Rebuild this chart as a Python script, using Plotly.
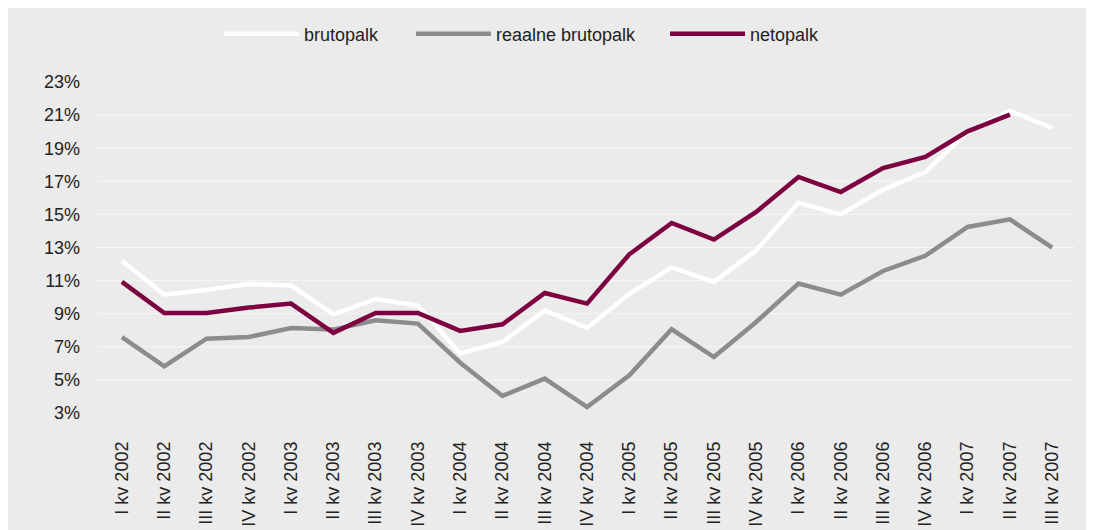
import plotly.graph_objects as go

categories = [
    "I kv 2002", "II kv 2002", "III kv 2002", "IV kv 2002",
    "I kv 2003", "II kv 2003", "III kv 2003", "IV kv 2003",
    "I kv 2004", "II kv 2004", "III kv 2004", "IV kv 2004",
    "I kv 2005", "II kv 2005", "III kv 2005", "IV kv 2005",
    "I kv 2006", "II kv 2006", "III kv 2006", "IV kv 2006",
    "I kv 2007", "II kv 2007", "III kv 2007",
]

brutopalk = [12.2, 10.15, 10.45, 10.8, 10.7, 8.96, 9.89, 9.49, 6.6, 7.3, 9.2, 8.14,
             10.2, 11.8, 10.92, 12.83, 15.7, 15.0, 16.5, 17.56, 19.98, 21.25, 20.22]
reaalne_brutopalk = [7.59, 5.82, 7.49, 7.59, 8.14, 8.04, 8.6, 8.4, 6.04, 4.03, 5.08, 3.36,
                     5.28, 8.06, 6.38, 8.5, 10.82, 10.15, 11.58, 12.5, 14.24, 14.7, 12.99]
netopalk = [10.92, 9.04, 9.04, 9.37, 9.61, 7.84, 9.04, 9.04, 7.96, 8.36, 10.25, 9.61,
            12.59, 14.48, 13.48, 15.15, 17.26, 16.35, 17.8, 18.47, 20.02, 21.03, None]

series_names = ["brutopalk", "reaalne brutopalk", "netopalk"]
series_values = [brutopalk, reaalne_brutopalk, netopalk]
series_colors = ["#ffffff", "#8c8c8c", "#7d0040"]

y_ticks = [3, 5, 7, 9, 11, 13, 15, 17, 19, 21, 23]
y_ticktext = [f"{v}%" for v in y_ticks]
grid_values = y_ticks[1:]

W, H = 1085, 522
L, R, T, B = 89, 18, 74, 117
plot_w = W - L - R
plot_h = H - T - B

legend_ids = ["legend", "legend2", "legend3"]
legend_left_px = [211, 403, 657]
legend_mid_px = 26

fig = go.Figure()
for name, vals, col, lid in zip(series_names, series_values, series_colors, legend_ids):
    fig.add_trace(go.Scatter(
        x=categories, y=vals, name=name, mode="lines",
        line=dict(color=col, width=4.5),
        connectgaps=False, legend=lid,
    ))

shapes = []
for g in grid_values:
    shapes.append(dict(
        type="line", xref="paper", yref="y", layer="below",
        x0=0, x1=1, y0=g, y1=g,
        line=dict(color="#f7f7f7", width=1),
    ))

font_family = "Liberation Sans, Arial, sans-serif"

legend_common = dict(
    orientation="h", xanchor="left", yanchor="middle",
    bgcolor="rgba(0,0,0,0)", font=dict(size=18, color="#222222"),
    itemwidth=75,
)
legends = {}
for lid, lx in zip(legend_ids, legend_left_px):
    legends[lid] = dict(legend_common, x=(lx - L) / plot_w,
                        y=(H - B - legend_mid_px) / plot_h)

fig.update_layout(
    width=W, height=H,
    margin=dict(l=L, r=R, t=T, b=B, pad=0, autoexpand=False),
    paper_bgcolor="#ebebeb",
    plot_bgcolor="#ebebeb",
    font=dict(family=font_family, size=18, color="#222222"),
    shapes=shapes,
    showlegend=True,
    xaxis=dict(
        type="category", categoryorder="array", categoryarray=categories,
        range=[-0.59, 22.54], tickangle=-90, showgrid=False, zeroline=False,
        showline=False, ticks="", ticklabelstandoff=24, automargin=False,
        tickfont=dict(size=18, color="#222222"),
    ),
    yaxis=dict(
        range=[3, 23], tickvals=y_ticks, ticktext=y_ticktext,
        showgrid=False, zeroline=False, showline=False, ticks="",
        ticklabelstandoff=16, automargin=False,
        tickfont=dict(size=18, color="#222222"),
    ),
    **legends,
)

fig.write_html("out.html")
